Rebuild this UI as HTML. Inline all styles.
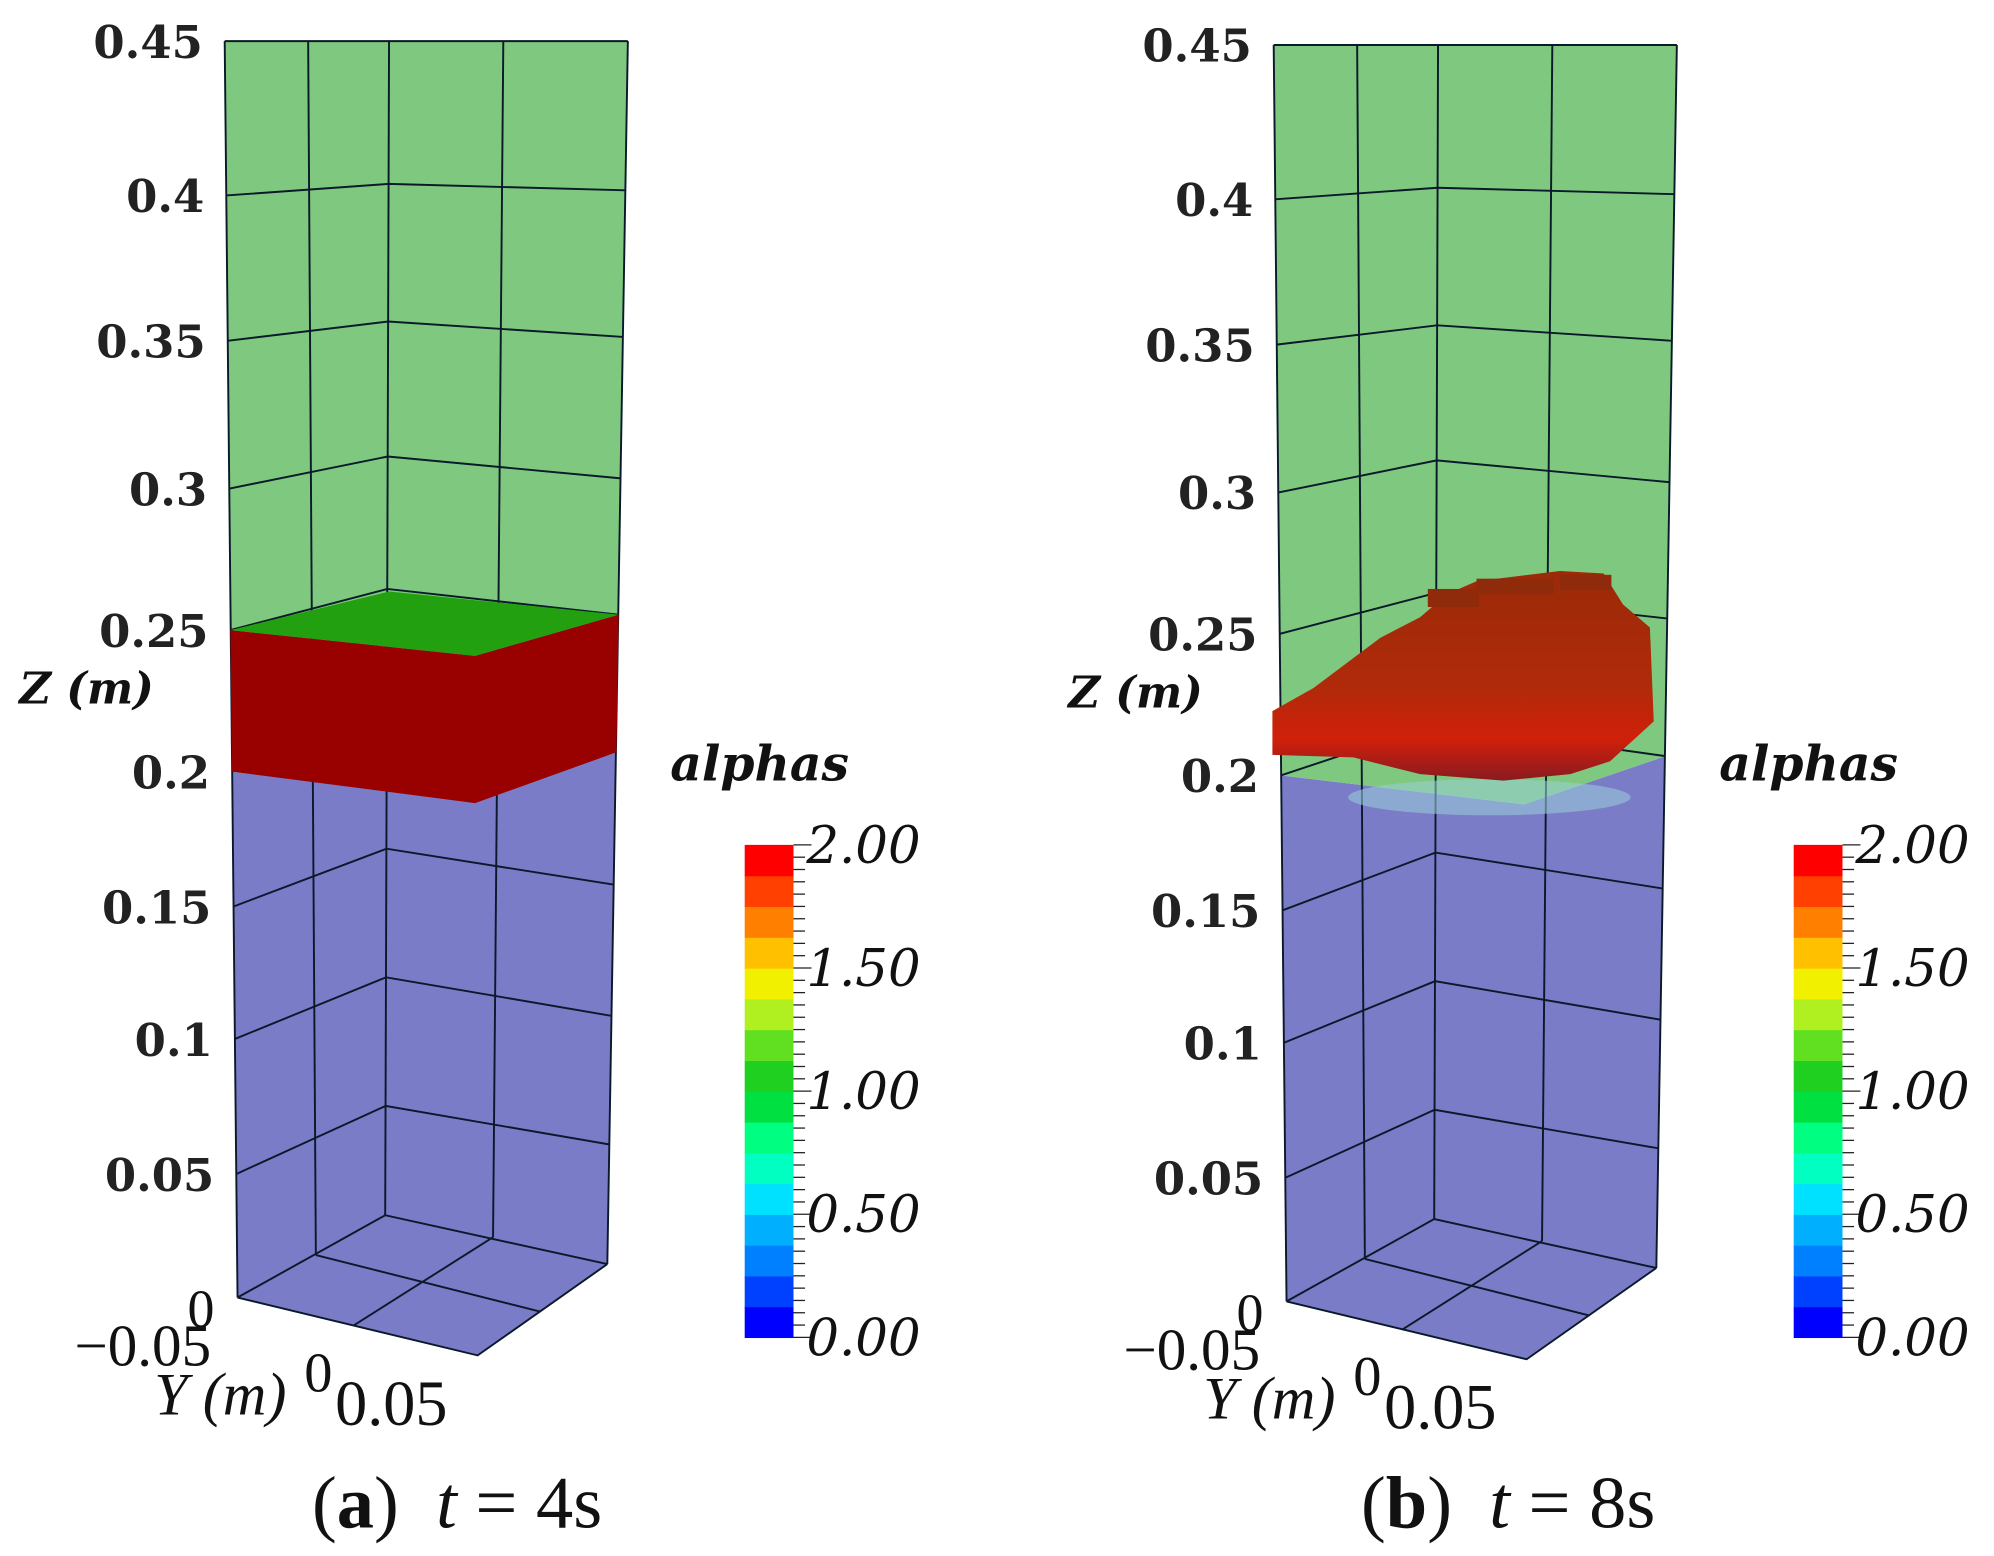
<!DOCTYPE html>
<html><head><meta charset="utf-8"><style>
html,body{margin:0;padding:0;background:#fff;}
svg{display:block;}
</style></head><body>
<svg id="fig" width="1994" height="1556" viewBox="0 0 1553 1210" preserveAspectRatio="none" xmlns="http://www.w3.org/2000/svg">
<defs>
<linearGradient id="blobGrad" x1="0" y1="0" x2="0" y2="1">
<stop offset="0" stop-color="#9a2a08"/><stop offset="0.55" stop-color="#b02a0a"/><stop offset="0.8" stop-color="#d0200a"/><stop offset="1" stop-color="#8a1a20"/>
</linearGradient>
</defs>
</svg>
<script>
const zTicks=[0,0.05,0.1,0.15,0.2,0.25,0.3,0.35,0.4,0.45];
const zTickLabels=["0","0.05","0.1","0.15","0.2","0.25","0.3","0.35","0.4","0.45"];
const cbarValues=[0,0.125,0.25,0.375,0.5,0.625,0.75,0.875,1,1.125,1.25,1.375,1.5,1.625,1.75,1.875];
const cbarColors=["#0000ff","#0040ff","#0080ff","#00b0ff","#00e0ff","#00ffc0","#00ff80","#00e040","#20d020","#60e020","#b0f020","#f0f000","#ffc000","#ff8000","#ff4000","#ff0000"];
const cbarLabels=["0.00","0.50","1.00","1.50","2.00"];
const cbarLabelValues=[0,0.5,1,1.5,2];
const waterLevelA=[0.2,0.25];
const interfaceB=0.2;
const blobB=[[991,553],[1023,535],[1075,496],[1106,480],[1127,462],[1150,452],[1215,444],[1249,446],[1264,470],[1285,488],[1288,561],[1254,592],[1223,602],[1171,607],[1106,602],[1054,589],[991,587]];

const NS="http://www.w3.org/2000/svg";
const svg=document.getElementById('fig');
function mk(tag,attrs,parent){const e=document.createElementNS(NS,tag);for(const k in attrs)e.setAttribute(k,attrs[k]);(parent||svg).appendChild(e);return e;}
const edgeX={L:[185,175],LG:[246,240],B:[300,303],RG:[384,392],R:[473,489]};
const edgeY={L:[1009,913,808,705,600,490,380,265,152,32],B:[945,860,760,660,560,458,355,250,143,32],R:[983,890,790,688,585,478,372,262,148,32]};
const FRONT=[372,1054];
function yAt(arr,z){const s=z/0.05;let i=Math.floor(s);if(i>=arr.length-1)i=arr.length-2;if(i<0)i=0;const t=s-i;return arr[i]+(arr[i+1]-arr[i])*t;}
function edgeYfor(k,z){if(k==='L')return yAt(edgeY.L,z);if(k==='R')return yAt(edgeY.R,z);if(k==='B')return yAt(edgeY.B,z);
 if(k==='LG')return (yAt(edgeY.L,z)+yAt(edgeY.B,z))/2+ (z===0?-1:0);
 return (yAt(edgeY.B,z)*0.55+yAt(edgeY.R,z)*0.45);}
function pt(k,z,dx,dy){const t=z/0.45;const x=edgeX[k][0]+(edgeX[k][1]-edgeX[k][0])*t;return [x+dx,edgeYfor(k,z)+dy];}

function panel(dx,dy,idx){
 const g=mk('g',{});
 
 
 const P=(k,z)=>pt(k,z,dx,dy);
 const pts=a=>a.map(p=>p.join(',')).join(' ');
 const lo=idx==='a'?waterLevelA[0]:interfaceB;
 const Fb=[FRONT[0]+dx,FRONT[1]+dy];
 const frontLo=[370+dx,(yAt(edgeY.L,lo)+yAt(edgeY.R,lo))/2+30+dy];
 const blue=mk('polygon',{points:pts([P('L',lo),frontLo,P('R',lo),P('R',0),Fb,P('L',0)]),fill:'#7b7cc8'},g);
 
 
 const green=mk('polygon',{points:pts([P('L',0.45),P('R',0.45),P('R',lo),frontLo,P('L',lo)]),fill:'#7fc87f'},g);
 
 
 const st={stroke:'#0a1a2a','stroke-width':1.5,fill:'none'};
 ['L','LG','B','RG','R'].forEach(k=>{const l=mk('polyline',Object.assign({points:pts([P(k,0),P(k,0.45)])},st),g);
  
  });
 zTicks.forEach(z=>{const l=mk('polyline',Object.assign({points:pts([P('L',z),P('B',z),P('R',z)])},st),g);
  
  });
 const fl=mk('polyline',Object.assign({points:pts([P('L',0),Fb,P('R',0)])},st),g);
 
 
 const f1=mk('line',Object.assign({x1:P('LG',0)[0],y1:P('LG',0)[1],x2:421+dx,y2:1020+dy},st),g);
 
 
 const f2=mk('line',Object.assign({x1:P('RG',0)[0],y1:P('RG',0)[1],x2:275+dx,y2:1031+dy},st),g);
 
 
 if(idx==='a'){
  const hi=waterLevelA[1];
  const yT=P('L',hi), yB=P('L',lo), rT=P('R',hi), rB=P('R',lo);
  const fT=[370+dx,(yT[1]+rT[1])/2+26], fB=[370+dx,(yB[1]+rB[1])/2+32];
  const red=mk('polygon',{points:pts([yT,fT,rT,rB,fB,yB]),fill:'#990000'},g);
  
  
  const top=mk('polygon',{points:pts([yT,[303+dx,P('B',hi)[1]+2],rT,fT]),fill:'#22a010'},g);
  
  
 } else {
  const halo=mk('ellipse',{cx:1160,cy:620,rx:110,ry:14,fill:'#9ad0d8',opacity:0.55},g);
  
  
  const b=mk('polygon',{points:pts(blobB.map(p=>[p[0]-817+dx,p[1]])),fill:'url(#blobGrad)'},g);
  
  
  [[1112,458,40,14],[1150,450,60,12],[1215,447,40,12]].forEach(r=>{
   const lump=mk('rect',{x:r[0],y:r[1],width:r[2],height:r[3],fill:'#8f2a0a'},g);
   
   });
 }
 zTicks.forEach((z,i)=>{if(z===0)return;const p=P('L',z);
  const t=mk('text',{x:p[0]-17,y:p[1]+13,'text-anchor':'end','font-family':'DejaVu Serif, serif','font-weight':'bold','font-size':35,fill:'#222'},g);
  t.textContent=zTickLabels[i];
  
  });
 const texts=[['0',146+dx,1032+dy,'normal',42,'Liberation Serif','y-tick-zero-top','normal'],['−0.05',58+dx,1062+dy,'normal',46,'Liberation Serif','y-tick-neg','normal'],
  ['Z (m)',15+dx,547+dy,'bold',34,'DejaVu Serif','z-axis-title','italic'],['Y (m)',120+dx,1100+dy,'normal',47,'Liberation Serif','y-axis-title','italic'],
  ['0',237+dx,1082+dy,'normal',44,'Liberation Serif','y-tick-zero','normal'],['0.05',261+dx,1108+dy,'normal',50,'Liberation Serif','y-tick-pos','normal']];
 texts.forEach(a=>{const t=mk('text',{x:a[1],y:a[2],'font-family':a[5]+', serif','font-weight':a[3],'font-style':a[7],'font-size':a[4],fill:'#111'},g);
  t.textContent=a[0];
  
  });
 const cx=580+dx, cTop=657, cBot=1040, cw=38;
 const cy=v=>cBot-(v/2)*(cBot-cTop);
 const bandH=(cBot-cTop)/cbarValues.length;
 cbarValues.forEach((v,i)=>{const r=mk('rect',{x:cx,y:cy(v)-bandH,width:cw,height:bandH+0.5,fill:cbarColors[i]},g);
  
  });
 for(let i=0;i<=40;i++){const v=i*0.05;const big=i%10===0;
  const l=mk('line',{x1:cx+cw,x2:cx+cw+(big?14:9),y1:cy(v),y2:cy(v),stroke:'#222','stroke-width':1},g);
  
  }
 cbarLabelValues.forEach((v,i)=>{const t=mk('text',{x:cx+48,y:cy(v)+14,'font-family':'DejaVu Serif, serif','font-style':'italic','font-size':40,fill:'#111'},g);
  t.textContent=cbarLabels[i];
  
  });
 const at=mk('text',{x:522+dx,y:607,'font-family':'DejaVu Serif, serif','font-style':'italic','font-weight':'bold','font-size':38,fill:'#111'},g);
 at.textContent='alphas';
 
 
 const cap=mk('text',{x:243+dx,y:1188,'font-family':'Liberation Serif, serif','font-size':58,fill:'#111'},g);
 cap.innerHTML='(<tspan font-weight="bold">'+idx+'</tspan>)&#160;&#160;<tspan font-style="italic">t</tspan> = '+(idx==='a'?'4':'8')+'s';
 
 
}
panel(0,0,'a');
panel(817,3,'b');
</script>
</body></html>
